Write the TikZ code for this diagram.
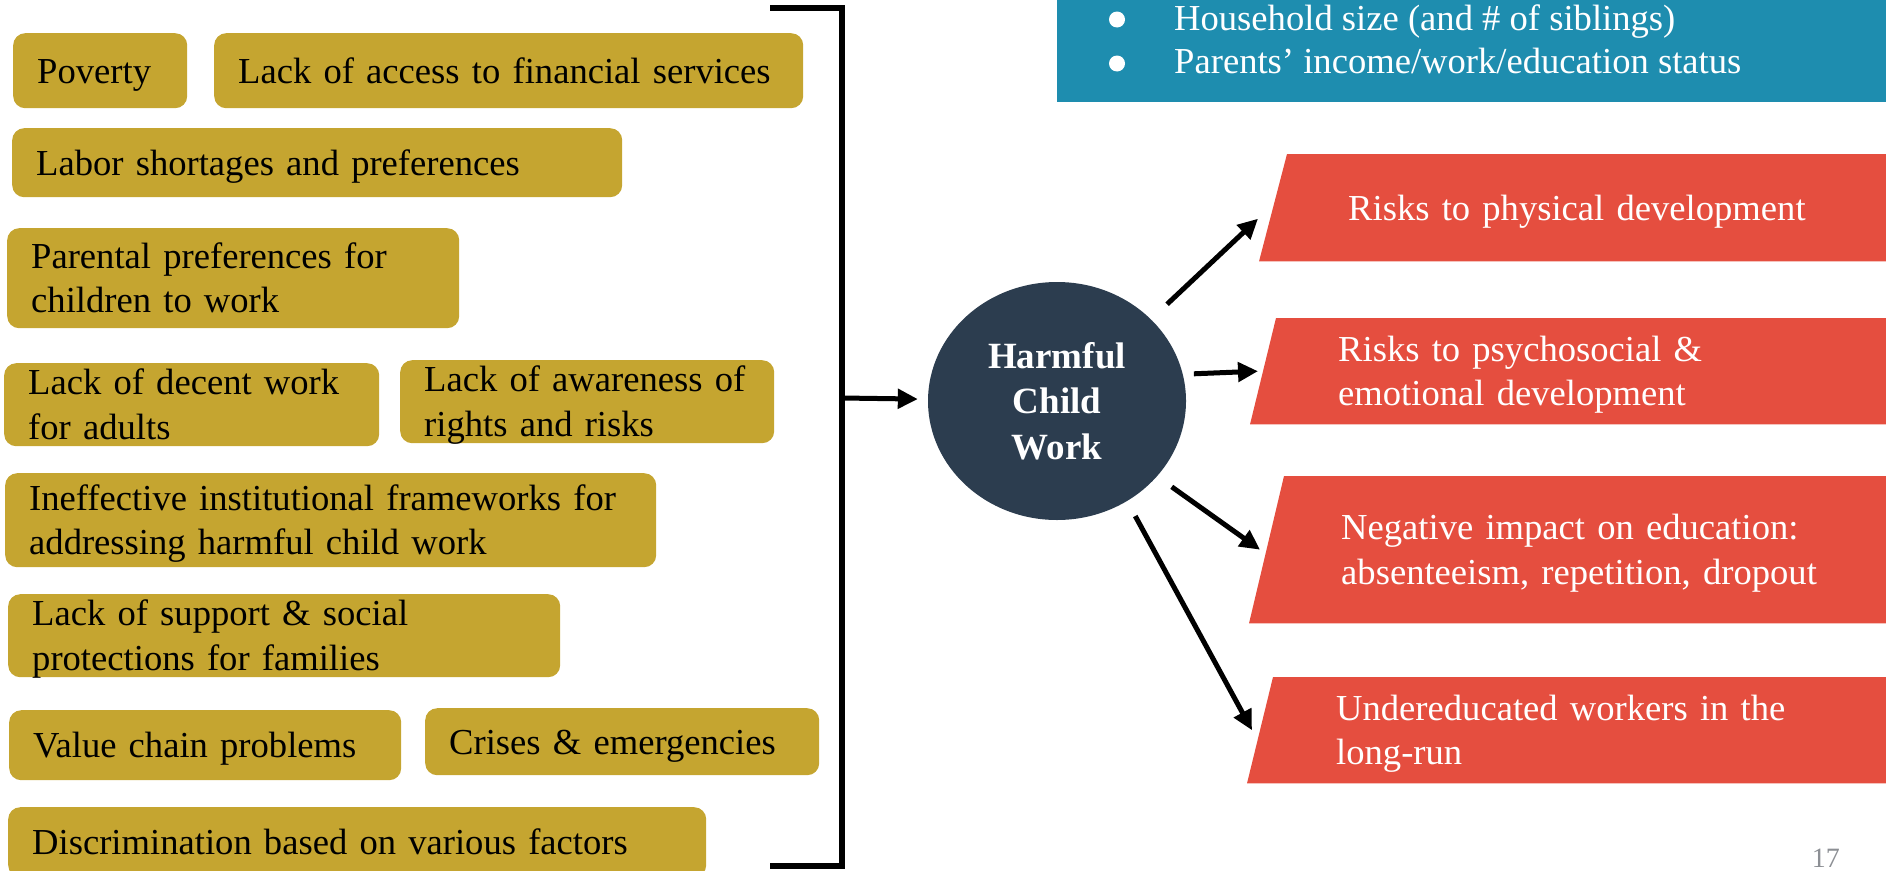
\documentclass[tikz,border=0pt]{standalone}
\usepackage{fontspec}
\setmainfont{Liberation Serif}
\usetikzlibrary{shapes.geometric,arrows.meta,backgrounds}
\definecolor{causegold}{HTML}{C5A530}
\definecolor{harmnavy}{HTML}{2C3D4F}
\definecolor{infoblue}{HTML}{1E8DAF}
\definecolor{effectred}{HTML}{E54E3F}
\definecolor{pagegray}{HTML}{8C8F94}
\newcommand\linestrut{\rule[-9.75pt]{0pt}{44.5pt}}
\tikzset{
  cause/.style={rectangle, rounded corners=12pt, fill=causegold, anchor=north west,
    inner xsep=24pt, inner ysep=-4pt, align=left, font=\fontsize{36.6}{44.5}\selectfont,
    execute at begin node=\linestrut, execute at end node=\linestrut},
  effect/.style={rectangle, anchor=north west, inner sep=0pt, align=left, text=white,
    font=\fontsize{36.6}{44.5}\selectfont,
    execute at begin node=\linestrut, execute at end node=\linestrut},
  harm/.style={ellipse, fill=harmnavy, minimum width=258pt, minimum height=238pt,
    inner sep=0pt, align=center, text=white, font=\fontsize{37}{45.5}\selectfont\bfseries},
  infobox/.style={rectangle, fill=infoblue, anchor=north west, minimum width=829pt,
    minimum height=122pt, inner sep=0pt},
  item/.style={anchor=base west, inner sep=0pt, text=white, font=\fontsize{36.6}{44.5}\selectfont},
  dot/.style={circle, fill=white, minimum size=16pt, inner sep=0pt},
  bracket/.style={line width=5.5pt, miter limit=4},
  arrow/.style={line width=5pt, -{Triangle[length=20pt,width=19pt]}}
}
\begin{document}
\begin{tikzpicture}[x=1pt, y=-1pt]
\useasboundingbox (0,0) rectangle (1886,870);
\node[cause, text width=126pt, minimum height=75pt] (poverty) at (13,33) {Poverty};
\node[cause, text width=541pt, minimum height=75pt] (finance) at (214,33) {Lack of access to financial services};
\node[cause, text width=562pt, minimum height=69pt] (labor) at (12,128) {Labor shortages and preferences};
\node[cause, text width=404pt, minimum height=100pt] (parental) at (7,228) {Parental preferences for\\children to work};
\node[cause, text width=327pt, minimum height=83pt] (decent) at (4,363) {Lack of decent work\\for adults};
\node[cause, text width=326pt, minimum height=83pt] (awareness) at (400,360) {Lack of awareness of\\rights and risks};
\node[cause, text width=603pt, minimum height=94pt] (institution) at (5,473) {Ineffective institutional frameworks for\\addressing harmful child work};
\node[cause, text width=504pt, minimum height=83pt] (support) at (8,594) {Lack of support \& social\\protections for families};
\node[cause, text width=344pt, minimum height=70pt] (valuechain) at (9,710) {Value chain problems};
\node[cause, text width=346pt, minimum height=67pt] (crises) at (425,708) {Crises \& emergencies};
\node[cause, text width=650pt, minimum height=70pt] (discrimination) at (8,807) {Discrimination based on various factors};
\draw[bracket] (770,8) -- (842,8) -- (842,866) -- (770,866);
\coordinate (junction) at (842,398);
\node[harm] (harm) at (1057,401) {Harmful\\Child\\Work};
\draw[arrow, shorten >=10pt] (junction) -- (harm);
\node[infobox] (household) at (1057,-20) {};
\node[dot] (sizedot) at (1117,19.5) {};
\node[item] (sizeitem) at (1174,30.5) {Household size (and \# of siblings)};
\node[dot] (incomedot) at (1117,63.5) {};
\node[item] (incomeitem) at (1174,73.5) {Parents’ income/work/education status};
\node[effect, text width=538pt, minimum height=107pt] (physical) at (1348,154) {Risks to physical development};
\node[effect, text width=548pt, minimum height=106pt] (emotional) at (1338,318) {Risks to psychosocial \&\\emotional development};
\node[effect, text width=545pt, minimum height=147pt] (education) at (1341,476) {Negative impact on education:\\absenteeism, repetition, dropout};
\node[effect, text width=550pt, minimum height=106pt] (longrun) at (1336,677) {Undereducated workers in the\\long-run};
\begin{scope}[on background layer]
\foreach \n/\topcut/\botcut in {physical/61/89, emotional/62/88, education/57/92, longrun/63/89}
  \fill[effectred] ([xshift=-\botcut pt]\n.south west) -- ([xshift=-\topcut pt]\n.north west)
    -- (\n.north east) -- (\n.south east) -- cycle;
\end{scope}
\draw[arrow, shorten <=22pt] (harm.41) -- ([xshift=-90pt,yshift=-11pt]physical.west);
\draw[arrow, shorten <=11pt] (harm.12) -- ([xshift=-80pt]emotional.west);
\draw[arrow, shorten <=18pt] (harm.-37) -- ([xshift=-81pt]education.west);
\draw[arrow, shorten <=17pt] (harm.-55) -- ([xshift=-84pt]longrun.west);
\node[anchor=base east, inner sep=0pt, text=pagegray, font=\fontsize{28}{34}\selectfont] (pagenum) at (1840,867) {17};
\end{tikzpicture}
\end{document}
